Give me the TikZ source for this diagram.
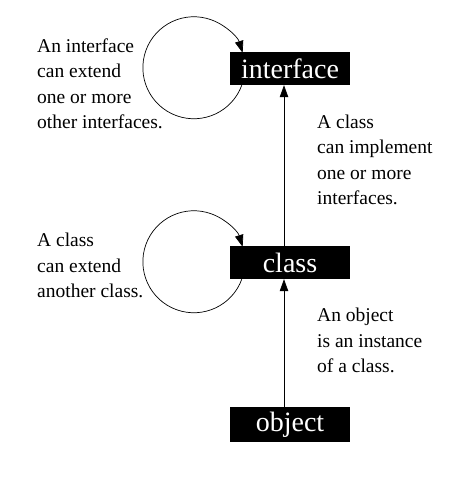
\documentclass[tikz,border=0pt]{standalone}
\usepackage{fontspec}
\setmainfont{Liberation Serif}
\usetikzlibrary{arrows.meta}
\tikzset{
  kind/.style={fill=black, text=white, minimum width=120pt, minimum height=33pt, inner sep=0pt, font=\fontsize{28}{30}\selectfont},
  note/.style={anchor=base west, align=left, inner sep=0pt, font=\fontsize{19.5}{25.5}\selectfont},
  link/.style={draw=black, line width=0.7pt, -{Triangle[length=12pt,width=8.5pt]}},
}
\begin{document}
\begin{tikzpicture}[x=1pt,y=1pt]
\useasboundingbox (0,0) rectangle (449,482);
\node[kind] (interface) at (290,413.5) {interface};
\node[kind] (class) at (290,219.5) {class};
\node[kind, minimum height=35pt] (object) at (290,57.5) {object};
\draw[link] ([xshift=-6pt]object.north) -- ([xshift=-6pt]class.south);
\draw[link] ([xshift=-6pt]class.north) -- ([xshift=-6pt]interface.south);
\draw[link] ([xshift=12pt]interface.south west) arc[start angle=-20, end angle=-343, radius=51];
\draw[link] ([xshift=12pt]class.south west) arc[start angle=-20, end angle=-343, radius=51];
\node[note] (n1) at (37,353) {An interface\\can extend\\one or more\\other interfaces.};
\node[note] (n2) at (317,277) {A class\\can implement\\one or more\\interfaces.};
\node[note] (n3) at (37,184) {A class\\can extend\\another class.};
\node[note] (n4) at (317,109) {An object\\is an instance\\of a class.};
\end{tikzpicture}
\end{document}
